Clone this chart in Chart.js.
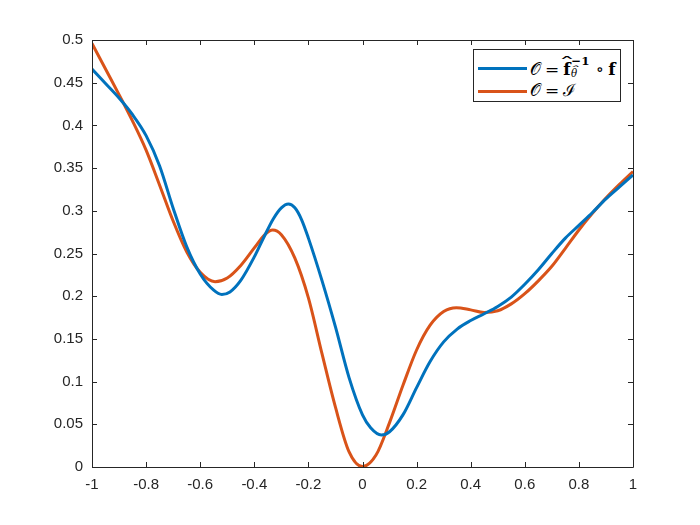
<!DOCTYPE html>
<html lang="en">
<head>
  <meta charset="UTF-8">
  <title>O curves</title>
  <script src="https://cdn.jsdelivr.net/npm/chart.js"></script>
  <style>
    body { margin: 0; background: #fff; }
    #wrap { position: relative; width: 700px; height: 525px; }
    #legend {
      position: absolute; left: 473px; top: 49px; width: 148px; height: 53px;
      border: 1px solid #262626; background: #fff; box-sizing: border-box;
      font-family: "DejaVu Serif", "Liberation Serif", serif; font-size: 17px; color: #000;
    }
    .row { position: absolute; left: 0; height: 24px; width: 146px; }
    .swatch { position: absolute; left: 4px; width: 49px; height: 3px; }
    .math { position: absolute; left: 56px; white-space: nowrap; line-height: 20px; }
    .rel { margin: 0 4px; }
    .hat { position: relative; display: inline-block; }
    .hat::after {
      content: "\02C6"; position: absolute; left: 50%; top: -0.42em;
      transform: translateX(-50%) scaleX(2.2); font-weight: normal; font-size: 0.9em;
    }
    .scr { display: inline-block; position: relative; width: 1.25em; height: 1em; }
    .scr .up { position: absolute; left: 0.05em; top: -0.2em; font-size: 0.7em; font-weight: bold; line-height: 1; }
    .scr .dn { position: absolute; left: 0.05em; top: 1.1em; font-size: 0.6em; font-style: italic; line-height: 1; }
  </style>
</head>
<body>
  <div id="wrap">
    <canvas id="chart" width="700" height="525"></canvas>
    <div id="legend">
      <div class="row" style="top:6px">
        <span class="swatch" id="sw0" style="top:11px"></span>
        <span class="math" style="top:2px">𝒪<span class="rel">=</span><b class="hat">f</b><span class="scr"><span class="up">−1</span><span class="dn"><span class="hat">θ</span></span></span><span class="rel">∘</span><b>f</b></span>
      </div>
      <div class="row" style="top:29px">
        <span class="swatch" id="sw1" style="top:11px"></span>
        <span class="math" style="top:1px">𝒪<span class="rel">=</span>ℐ</span>
      </div>
    </div>
  </div>

  <script>
    // tick labels
    var xTickLabels = ['-1', '-0.8', '-0.6', '-0.4', '-0.2', '0', '0.2', '0.4', '0.6', '0.8', '1'];
    var yTickLabels = ['0', '0.05', '0.1', '0.15', '0.2', '0.25', '0.3', '0.35', '0.4', '0.45', '0.5'];

    // series 1: O = f^-1 o f
    var blueX = [-1, -0.95, -0.9, -0.85, -0.8, -0.75, -0.7, -0.65, -0.6, -0.55, -0.52, -0.49, -0.45, -0.4,
                 -0.367, -0.33, -0.3, -0.274, -0.25, -0.225, -0.2, -0.15, -0.1, -0.05, 0, 0.03, 0.07, 0.1,
                 0.15, 0.2, 0.25, 0.3, 0.35, 0.4, 0.45, 0.5, 0.55, 0.6, 0.65, 0.7, 0.75, 0.8, 0.85, 0.9, 0.95, 1];
    var blueY = [0.466, 0.449, 0.432, 0.4125, 0.388, 0.3525, 0.303, 0.258, 0.226, 0.207, 0.202, 0.205, 0.2185, 0.246,
                 0.2675, 0.2905, 0.3035, 0.308, 0.3035, 0.2895, 0.268, 0.2185, 0.164, 0.105, 0.061, 0.046, 0.0375, 0.0413,
                 0.0613, 0.093, 0.1235, 0.1465, 0.1615, 0.1715, 0.1795, 0.188, 0.199, 0.214, 0.231, 0.250, 0.268, 0.283, 0.298, 0.314, 0.328, 0.342];

    // series 2: O = I
    var orangeX = [-1, -0.95, -0.9, -0.85, -0.8, -0.75, -0.7, -0.65, -0.6, -0.545, -0.5, -0.45, -0.4, -0.36,
                   -0.332, -0.3, -0.25, -0.2, -0.15, -0.1, -0.05, 0, 0.05, 0.1, 0.15, 0.2, 0.25, 0.3,
                   0.347, 0.4, 0.45, 0.5, 0.55, 0.6, 0.65, 0.7, 0.75, 0.8, 0.85, 0.9, 0.95, 1];
    var orangeY = [0.496, 0.466, 0.436, 0.405, 0.371, 0.330, 0.288, 0.252, 0.228, 0.217, 0.2213, 0.236, 0.2565, 0.2725,
                   0.2775, 0.272, 0.2445, 0.198, 0.133, 0.070, 0.018, 0.0005, 0.014, 0.052, 0.096, 0.137, 0.166, 0.182,
                   0.1866, 0.184, 0.181, 0.183, 0.191, 0.203, 0.218, 0.235, 0.256, 0.2775, 0.297, 0.315, 0.331, 0.346];

    var colors = ['#0072BD', '#D95319'];
    var axisColor = '#262626';

    function pts(xs, ys) {
      return xs.map(function (x, i) { return { x: x, y: ys[i] }; });
    }

    document.getElementById('sw0').style.background = colors[0];
    document.getElementById('sw1').style.background = colors[1];

    // box round the plot and inward ticks on all four sides
    var boxPlugin = {
      id: 'box',
      afterDraw: function (chart) {
        var a = chart.chartArea, ctx = chart.ctx;
        var sx = chart.scales.x, sy = chart.scales.y;
        var len = 5;
        ctx.save();
        ctx.strokeStyle = axisColor;
        ctx.lineWidth = 1;
        ctx.beginPath();
        ctx.rect(Math.round(a.left) + 0.5, Math.round(a.top) + 0.5,
                 Math.round(a.right - a.left), Math.round(a.bottom - a.top));
        sx.ticks.forEach(function (t) {
          var px = Math.round(sx.getPixelForValue(t.value)) + 0.5;
          ctx.moveTo(px, a.bottom); ctx.lineTo(px, a.bottom - len);
          ctx.moveTo(px, a.top); ctx.lineTo(px, a.top + len);
        });
        sy.ticks.forEach(function (t) {
          var py = Math.round(sy.getPixelForValue(t.value)) + 0.5;
          ctx.moveTo(a.left, py); ctx.lineTo(a.left + len, py);
          ctx.moveTo(a.right, py); ctx.lineTo(a.right - len, py);
        });
        ctx.stroke();
        ctx.restore();
      }
    };

    var ctx = document.getElementById('chart').getContext('2d');
    var chart = new Chart(ctx, {
      type: 'line',
      data: {
        datasets: [{
          label: 'O = f^-1 o f',
          data: pts(blueX, blueY),
          borderColor: colors[0],
          borderWidth: 3,
          pointRadius: 0,
          cubicInterpolationMode: 'monotone',
          fill: false
        }, {
          label: 'O = I',
          data: pts(orangeX, orangeY),
          borderColor: colors[1],
          borderWidth: 3,
          pointRadius: 0,
          cubicInterpolationMode: 'monotone',
          fill: false
        }]
      },
      options: {
        responsive: false,
        animation: false,
        layout: { padding: { left: 0, top: 40, right: 67, bottom: 0 } },
        plugins: { legend: { display: false }, tooltip: { enabled: false } },
        scales: {
          x: {
            type: 'linear',
            min: -1, max: 1,
            afterFit: function (s) { s.height = 58; },
            grid: { display: false, drawTicks: false },
            border: { display: false },
            ticks: {
              stepSize: 0.2,
              padding: 9,
              color: axisColor,
              maxRotation: 0,
              font: { family: 'Liberation Sans, Arial, sans-serif', size: 15 },
              callback: function (v, i) { return xTickLabels[i]; }
            }
          },
          y: {
            min: 0, max: 0.5,
            afterFit: function (s) { s.width = 92; },
            grid: { display: false, drawTicks: false },
            border: { display: false },
            ticks: {
              stepSize: 0.05,
              padding: 9,
              color: axisColor,
              font: { family: 'Liberation Sans, Arial, sans-serif', size: 15 },
              callback: function (v, i) { return yTickLabels[i]; }
            }
          }
        }
      },
      plugins: [boxPlugin]
    });
  </script>
</body>
</html>
